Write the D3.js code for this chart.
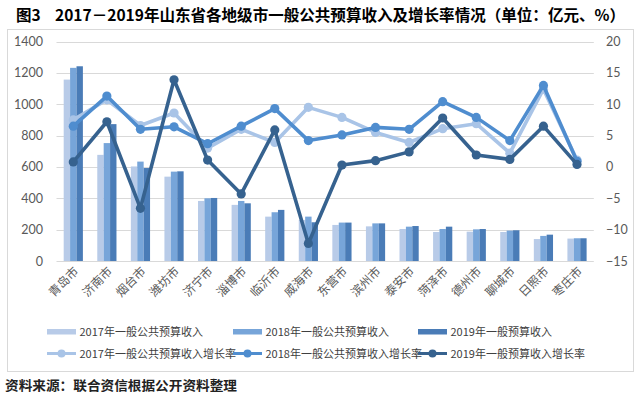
<!DOCTYPE html>
<html>
<head>
<meta charset="utf-8">
<script src="https://cdn.jsdelivr.net/npm/d3@7"></script>
<style>
  body { margin: 0; background: #fff; }
  svg text { font-family: Lato, "Noto Sans CJK SC", sans-serif; }
</style>
</head>
<body>
<svg id="chart" width="640" height="396"></svg>
<script>
const cities = ['青岛市', '济南市', '烟台市', '潍坊市', '济宁市', '淄博市', '临沂市', '威海市',
  '东营市', '滨州市', '泰安市', '菏泽市', '德州市', '聊城市', '日照市', '枣庄市'];
const rev2017 = [1157, 677, 603, 538, 383, 358, 283, 262, 230, 221, 204, 185, 187, 185, 140, 143];
const rev2018 = [1232, 752, 634, 570, 400, 383, 311, 283, 245, 240, 219, 204, 202, 194, 160, 145];
const rev2019 = [1242, 873, 593, 572, 402, 368, 326, 247, 245, 240, 223, 219, 204, 196, 168, 145];
const growth2017 = [7.5, 10.7, 6.6, 8.6, 3.0, 6.0, 3.9, 9.5, 7.9, 5.5, 3.9, 6.1, 6.9, 2.2, 12.4, 1.1];
const growth2018 = [6.5, 11.3, 6.0, 6.4, 3.7, 6.5, 9.3, 4.2, 5.1, 6.3, 6.0, 10.4, 7.9, 4.2, 13.0, 0.9];
const growth2019 = [0.8, 7.2, -6.6, 13.9, 1.1, -4.3, 5.9, -12.2, 0.3, 1.0, 2.4, 7.8, 1.9, 1.2, 6.5, 0.4];
const leftTicks = [0, 200, 400, 600, 800, 1000, 1200, 1400];
const rightTicks = [-15, -10, -5, 0, 5, 10, 15, 20];

const barSeries = [
  { name: '2017年一般公共预算收入', values: rev2017, color: '#b8cbe8' },
  { name: '2018年一般公共预算收入', values: rev2018, color: '#77a5d9' },
  { name: '2019年一般预算收入', values: rev2019, color: '#4a7cb7' }
];
const lineSeries = [
  { name: '2017年一般公共预算收入增长率', values: growth2017, color: '#a9c4e7' },
  { name: '2018年一般公共预算收入增长率', values: growth2018, color: '#4f8dcf' },
  { name: '2019年一般预算收入增长率', values: growth2019, color: '#36628f' }
];

const svg = d3.select('#chart');

// frame + title
svg.append('rect')
  .attr('x', 7.5).attr('y', 29.5).attr('width', 626).attr('height', 342)
  .style('fill', '#fff').style('stroke', '#d9d9d9');

svg.append('text')
  .attr('x', 16).attr('y', 21)
  .style('font-family', '"Noto Sans CJK SC"').style('font-size', '15.5px').style('font-weight', 'bold')
  .text('图3');
svg.append('text')
  .attr('x', 55).attr('y', 21)
  .attr('textLength', 570).attr('lengthAdjust', 'spacingAndGlyphs')
  .style('font-family', '"Noto Sans CJK SC"').style('font-size', '15.5px').style('font-weight', 'bold')
  .text('2017－2019年山东省各地级市一般公共预算收入及增长率情况（单位：亿元、%）');

const x = d3.scaleBand().domain(cities).range([56.5, 593.8]).padding(0);
const xs = d3.scaleBand().domain([0, 1, 2]).range([-9.6, 9.6]).padding(0);
const yL = d3.scaleLinear().domain([0, 1400]).range([261, 41.5]);
const yR = d3.scaleLinear().domain([-15, 20]).range([261, 41.5]);

// grid
svg.append('g').selectAll('line').data(leftTicks).join('line')
  .attr('x1', 56.5).attr('x2', 593.8)
  .attr('y1', d => Math.round(yL(d)) + 0.5).attr('y2', d => Math.round(yL(d)) + 0.5)
  .style('stroke', '#d9d9d9').style('stroke-width', 1);

// axes (labels only)
const axisL = svg.append('g').attr('transform', 'translate(50,0)')
  .call(d3.axisLeft(yL).tickValues(leftTicks).tickFormat(d3.format('d')).tickSize(0).tickPadding(7));
const axisR = svg.append('g').attr('transform', 'translate(600,0)')
  .call(d3.axisRight(yR).tickValues(rightTicks).tickFormat(d3.format('d')).tickSize(0).tickPadding(6));
[axisL, axisR].forEach(a => {
  a.select('.domain').remove();
  a.selectAll('text').style('font-family', 'Lato').style('font-size', '12.5px').style('fill', '#595959');
});

// bars
barSeries.forEach((s, i) => {
  svg.append('g').selectAll('rect').data(s.values).join('rect')
    .attr('x', (d, j) => x(cities[j]) + x.bandwidth() / 2 + xs(i))
    .attr('width', xs.bandwidth())
    .attr('y', d => yL(d))
    .attr('height', d => yL(0) - yL(d))
    .style('fill', s.color);
});

// category labels
svg.append('g').selectAll('text').data(cities).join('text')
  .attr('transform', d => `translate(${x(d) + x.bandwidth() / 2 + 6},${272}) rotate(-45)`)
  .attr('text-anchor', 'end')
  .style('font-family', '"Noto Sans CJK SC"').style('font-size', '12px').style('fill', '#595959')
  .text(d => d);

// growth lines
const line = d3.line()
  .x((d, j) => x(cities[j]) + x.bandwidth() / 2)
  .y(d => yR(d));

lineSeries.forEach(s => {
  const g = svg.append('g');
  g.append('path').datum(s.values)
    .attr('d', line)
    .style('fill', 'none').style('stroke', s.color).style('stroke-width', 3.6)
    .style('stroke-linejoin', 'round');
  g.selectAll('circle').data(s.values).join('circle')
    .attr('cx', (d, j) => x(cities[j]) + x.bandwidth() / 2)
    .attr('cy', d => yR(d))
    .attr('r', 4.6)
    .style('fill', s.color);
});

// legend
const legendX = [47, 233, 418];
const legend = svg.append('g');
barSeries.forEach((s, i) => {
  legend.append('rect')
    .attr('x', legendX[i]).attr('y', 329).attr('width', 29).attr('height', 5.5)
    .style('fill', s.color);
  legend.append('text')
    .attr('x', legendX[i] + 32.5).attr('y', 335.5)
    .style('font-family', '"Noto Sans CJK SC"').style('font-size', '11px').style('fill', '#404040')
    .text(s.name);
});
lineSeries.forEach((s, i) => {
  legend.append('line')
    .attr('x1', legendX[i]).attr('x2', legendX[i] + 29)
    .attr('y1', 353.5).attr('y2', 353.5)
    .style('stroke', s.color).style('stroke-width', 3);
  legend.append('circle')
    .attr('cx', legendX[i] + 14.5).attr('cy', 353.5).attr('r', 4)
    .style('fill', s.color);
  legend.append('text')
    .attr('x', legendX[i] + 32.5).attr('y', 357.5)
    .style('font-family', '"Noto Sans CJK SC"').style('font-size', '11px').style('fill', '#404040')
    .text(s.name);
});

// source note
svg.append('text')
  .attr('x', 5).attr('y', 390)
  .attr('textLength', 232).attr('lengthAdjust', 'spacingAndGlyphs')
  .style('font-family', '"Noto Sans CJK SC"').style('font-size', '13px').style('font-weight', 'bold')
  .style('fill', '#222')
  .text('资料来源：联合资信根据公开资料整理');
</script>
</body>
</html>
